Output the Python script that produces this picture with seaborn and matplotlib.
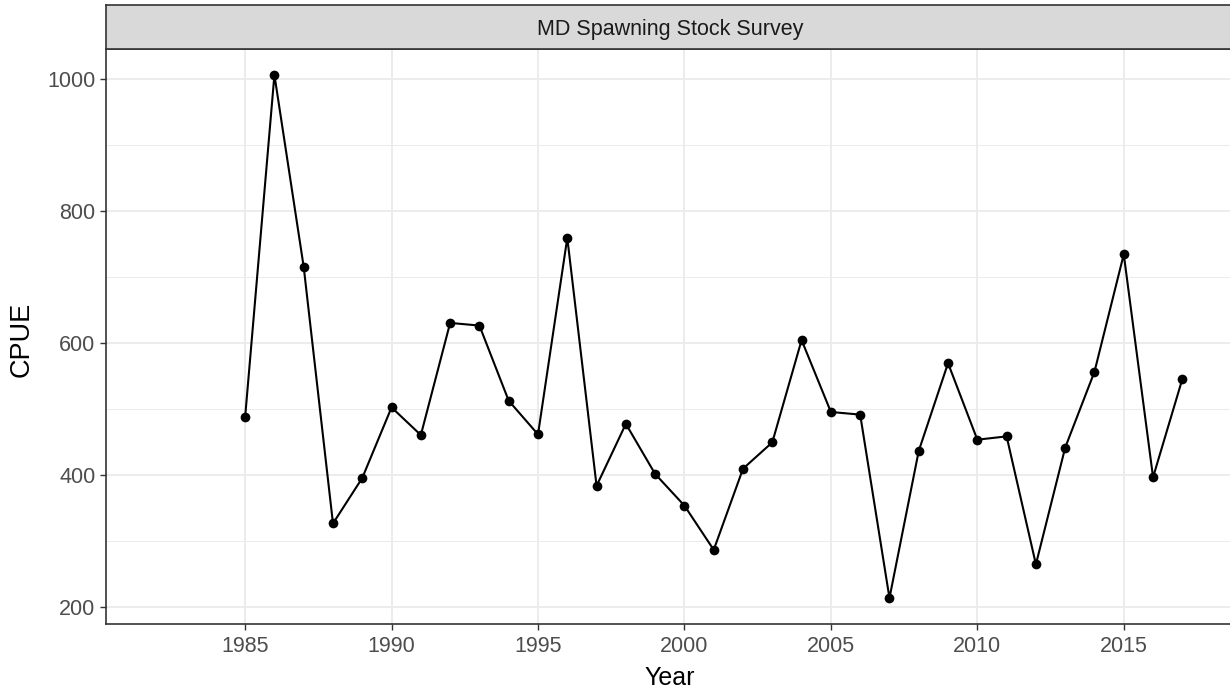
import pandas as pd
import seaborn as sns
import matplotlib.pyplot as plt

# MD Spawning Stock Survey - CPUE by year
years = list(range(1985, 2018))
cpue = [487, 1006, 715, 326, 395, 502, 460, 630, 626, 512, 461, 759, 383, 477,
        401, 353, 286, 409, 449, 604, 495, 491, 213, 436, 569, 453, 458, 264,
        441, 556, 734, 396, 545]
panel_title = "MD Spawning Stock Survey"
x_ticks = [1985, 1990, 1995, 2000, 2005, 2010, 2015]
y_ticks = [200, 400, 600, 800, 1000]
y_minor = [300, 500, 700, 900]

df = pd.DataFrame({"Year": years, "CPUE": cpue})

sns.set_theme(style="white")
plt.rcParams["font.family"] = ["Liberation Sans", "DejaVu Sans"]

fig = plt.figure(figsize=(12.3, 6.94), dpi=100)
W, H = 1230, 694
left, right, top, bottom = 106, 1233.6, 48.7, 624
ax = fig.add_axes([left / W, 1 - bottom / H, (right - left) / W, (bottom - top) / H])

sns.lineplot(data=df, x="Year", y="CPUE", ax=ax, color="black", linewidth=1.5,
             marker="o", markersize=7, markeredgewidth=0, zorder=3)

ax.set_xlim(1980.25, 2018.75)
ax.set_ylim(173.6, 1045.7)
ax.set_xticks(x_ticks)
ax.set_yticks(y_ticks)
ax.set_yticks(y_minor, minor=True)
ax.grid(which="major", color="#EBEBEB", linewidth=1.3)
ax.grid(which="minor", axis="y", color="#EBEBEB", linewidth=0.7)
ax.set_axisbelow(True)
for sp in ax.spines.values():
    sp.set_color("#333333")
    sp.set_linewidth(1.2)

ax.tick_params(axis="both", which="major", length=4.5, width=1.0, color="#333333",
               labelsize=15.5, labelcolor="#4D4D4D", direction="out")
ax.tick_params(axis="x", pad=4.5)
ax.tick_params(axis="y", pad=3)
ax.tick_params(axis="both", which="minor", length=0)
ax.tick_params(bottom=True, left=True)

ax.set_xlabel("Year", fontsize=18, color="black")
ax.set_ylabel("CPUE", fontsize=19.5, color="black")
ax.xaxis.set_label_coords(0.5, (bottom - 678) / (bottom - top))
ax.xaxis.label.set_verticalalignment("center")
ax.yaxis.set_label_coords((22 - left) / (right - left), 0.495)
ax.yaxis.label.set_verticalalignment("center")

# facet strip
strip_top = 4.7
sax = fig.add_axes([left / W, 1 - top / H, (right - left) / W, (top - strip_top) / H])
sax.set_facecolor("#D9D9D9")
sax.set_xticks([])
sax.set_yticks([])
for sp in sax.spines.values():
    sp.set_color("#333333")
    sp.set_linewidth(1.2)
sax.text(0.5, 0.44, panel_title, transform=sax.transAxes, ha="center", va="center",
         fontsize=15.5, color="#1A1A1A")

fig.savefig("out.png", dpi=100)
